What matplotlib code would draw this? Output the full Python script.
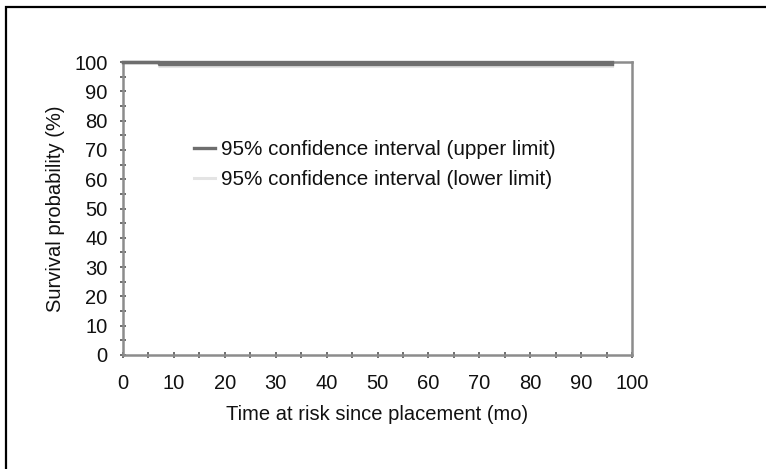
import matplotlib
matplotlib.use("Agg")
import matplotlib.pyplot as plt
from matplotlib.patches import Rectangle
from matplotlib.ticker import MultipleLocator

plt.rcParams['font.family'] = ['Liberation Sans', 'DejaVu Sans']

# follow-up time (months), survival estimate and the two confidence limits (%)
months = [0, 7, 96]
survival = [100, 99.3, 99.3]
upper_limit = [100, 100, 100]
lower_limit = [100, 98.8, 98.8]

x_ticks = list(range(0, 101, 10))
y_ticks = list(range(0, 101, 10))

fig = plt.figure(figsize=(7.66, 4.69), dpi=100)
ax = fig.add_axes([123 / 766, 1 - 355 / 469, (632 - 123) / 766, (355 - 62) / 469])

ax.plot(months, lower_limit, color='#e4e4e4', lw=2.2, drawstyle='steps-post',
        label='95% confidence interval (lower limit)', zorder=3, clip_on=False)
ax.plot(months, survival, color='#707070', lw=2.4, drawstyle='steps-post',
        zorder=4, clip_on=False)
ax.plot(months, upper_limit, color='#6e6e6e', lw=2.4, drawstyle='steps-post',
        label='95% confidence interval (upper limit)', zorder=5, clip_on=False)

ax.set_xlim(0, 100)
ax.set_ylim(0, 100)
ax.set_xticks(x_ticks)
ax.set_yticks(y_ticks)
ax.xaxis.set_minor_locator(MultipleLocator(5))
ax.yaxis.set_minor_locator(MultipleLocator(5))
ax.tick_params(which='both', direction='inout', length=4, width=1.2, color='#555555',
               labelsize=14.5, labelcolor='#111111')
ax.tick_params(axis='x', pad=12)
ax.tick_params(axis='y', pad=9)
for side in ax.spines.values():
    side.set_color('#8c8c8c')
    side.set_linewidth(1.8)

ax.set_xlabel('Time at risk since placement (mo)', fontsize=14.5, labelpad=8, color='#111111')
ax.set_ylabel('Survival probability (%)', fontsize=14.5, labelpad=7, color='#111111')

handles, labels = ax.get_legend_handles_labels()
leg = ax.legend(handles[::-1], labels[::-1], loc='upper left', frameon=False,
                bbox_to_anchor=(194 / 766, 1 - 140 / 469), bbox_transform=fig.transFigure,
                fontsize=14.9, handlelength=1.0, handletextpad=0.3, labelspacing=0.55,
                borderpad=0, borderaxespad=0)
for t in leg.get_texts():
    t.set_color('#111111')

# outer frame, open past the right and bottom edges
fig.patches.append(Rectangle((6 / 766, -0.2), 1.2, 1.2 - 7 / 469, transform=fig.transFigure,
                             fill=False, edgecolor='black', lw=1.6, clip_on=False))

fig.savefig('out.png', dpi=100)
